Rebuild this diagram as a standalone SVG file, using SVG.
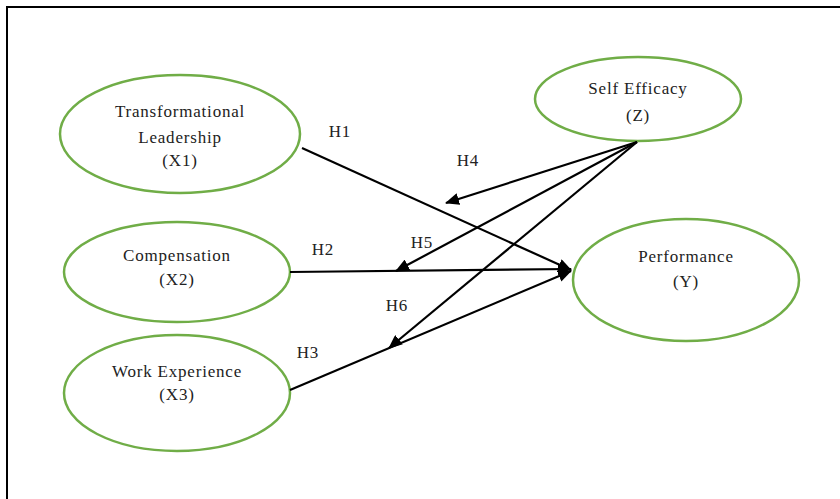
<svg xmlns="http://www.w3.org/2000/svg" width="840" height="499" viewBox="0 0 840 499">
<style>
.node{fill:#fff;stroke:#70ad47;stroke-width:2.5}
.lbl{font-family:"Liberation Serif",serif;font-size:17px;letter-spacing:0.8px;fill:#222;text-anchor:middle}
.edge{stroke:#000;stroke-width:2.2;fill:none;marker-end:url(#ah)}
</style>
<defs>
<marker id="ah" viewBox="0 0 14 12" refX="13" refY="6" markerWidth="14" markerHeight="12" markerUnits="userSpaceOnUse" orient="auto">
<path d="M0,0 L14,6 L0,12 Z" fill="#000"/>
</marker>
</defs>
<rect x="0" y="0" width="840" height="499" fill="#fff"/>
<rect x="7" y="7" width="845" height="510" fill="none" stroke="#000" stroke-width="2"/>
<g id="x1"><ellipse class="node" cx="180" cy="134" rx="120" ry="59"/>
<text class="lbl" x="180" y="117">Transformational</text><text class="lbl" x="180" y="143">Leadership</text><text class="lbl" x="180" y="166">(X1)</text></g>
<g id="x2"><ellipse class="node" cx="177" cy="272" rx="113" ry="50"/>
<text class="lbl" x="177" y="261">Compensation</text><text class="lbl" x="177" y="285">(X2)</text></g>
<g id="x3"><ellipse class="node" cx="177" cy="393" rx="113" ry="58"/>
<text class="lbl" x="177" y="377">Work Experience</text><text class="lbl" x="177" y="400">(X3)</text></g>
<g id="z"><ellipse class="node" cx="638" cy="99" rx="103" ry="42"/>
<text class="lbl" x="638" y="94">Self Efficacy</text><text class="lbl" x="638" y="121">(Z)</text></g>
<g id="y"><ellipse class="node" cx="686" cy="280" rx="113" ry="61"/>
<text class="lbl" x="686" y="262">Performance</text><text class="lbl" x="686" y="287">(Y)</text></g>
<g id="edges">
<line class="edge" x1="302" y1="148" x2="571" y2="270"/>
<line class="edge" x1="290" y1="272" x2="571" y2="269"/>
<line class="edge" x1="290" y1="390" x2="571" y2="271"/>
<line class="edge" x1="637" y1="142" x2="446" y2="203"/>
<line class="edge" x1="637" y1="142" x2="396" y2="271"/>
<line class="edge" x1="637" y1="142" x2="389" y2="348"/>
</g>
<g id="labels">
<text class="lbl" x="340" y="137">H1</text>
<text class="lbl" x="468" y="166">H4</text>
<text class="lbl" x="323" y="255">H2</text>
<text class="lbl" x="422" y="248">H5</text>
<text class="lbl" x="397" y="311">H6</text>
<text class="lbl" x="308" y="358">H3</text>
</g>
</svg>
